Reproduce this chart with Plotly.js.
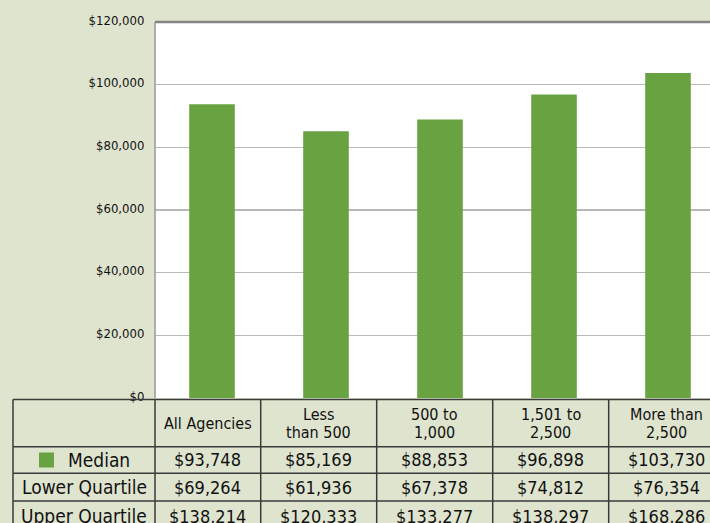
<!DOCTYPE html>
<html>
<head>
<meta charset="utf-8">
<script src="https://cdn.plot.ly/plotly-3.0.1.min.js"></script>
<style>
html,body{margin:0;padding:0;background:#dfe4cf;}
#chart{width:710px;height:523px;}
</style>
</head>
<body>
<div id="chart"></div>
<script>
// ---- data ----
const categories = ['All Agencies', 'Less than 500', '500 to 1,000', '1,501 to 2,500', 'More than 2,500'];
const headerLabels = ['All Agencies', 'Less<br>than 500', '500 to<br>1,000', '1,501 to<br>2,500', 'More than<br>2,500'];
const median = [93748, 85169, 88853, 96898, 103730];
const lowerQuartile = [69264, 61936, 67378, 74812, 76354];
const upperQuartile = [138214, 120333, 133277, 138297, 168286];
const rowLabels = ['Median', 'Lower Quartile', 'Upper Quartile'];

// ---- layout helpers (pixel -> paper) ----
const W = 710, H = 523;
const L = 155, T = 22, PW = W - L, PH = 398 - T;
const px = x => (x - L) / PW;
const py = y => (398 - y) / PH;

const FONT = 'Liberation Sans Narrow, DejaVu Sans Condensed, Arial Narrow, sans-serif';
const GREEN = '#69a341';
const LINE = '#3a3a3a';

const fmt = v => '$' + v.toLocaleString('en-US');

const colEdges = [155, 260.7, 376.7, 492.7, 608.7, 725];
const rowEdges = [399.5, 446.7, 473.3, 501, 531];
const tableLeft = 13;

const shapes = [];
const annotations = [];

// plot frame lines
shapes.push({type:'line', xref:'paper', yref:'paper', x0:0, x1:1.05, y0:1, y1:1, line:{color:'#858585', width:2.5}, layer:'above'});
shapes.push({type:'line', xref:'paper', yref:'paper', x0:0, x1:0, y0:0, y1:1, line:{color:'#999999', width:1.5}, layer:'above'});

// table horizontal lines
rowEdges.slice(0, 4).forEach(y => {
  shapes.push({type:'line', xref:'paper', yref:'paper', x0:px(tableLeft), x1:px(730), y0:py(y), y1:py(y), line:{color:LINE, width:1.5}});
});
// table vertical lines
[tableLeft].concat(colEdges.slice(0, 5)).forEach(x => {
  shapes.push({type:'line', xref:'paper', yref:'paper', x0:px(x), x1:px(x), y0:py(rowEdges[0]), y1:py(530), line:{color:LINE, width:1.5}});
});

// header cells (each line placed separately for tight leading)
headerLabels.forEach((lab, i) => {
  const cx = (colEdges[i] + colEdges[i + 1]) / 2;
  const lines = lab.split('<br>');
  const mid = (rowEdges[0] + rowEdges[1]) / 2;
  lines.forEach((t, k) => {
    const cy = lines.length === 1 ? mid : mid + (k - 0.5) * 18;
    annotations.push({xref:'paper', yref:'paper', x:px(cx), y:py(cy), text:t, showarrow:false,
      xanchor:'center', yanchor:'middle', align:'center', font:{family:FONT, size:16, color:'#111'}});
  });
});

// row labels and values
const rowData = [median, lowerQuartile, upperQuartile];
rowLabels.forEach((lab, r) => {
  const cy = (rowEdges[r + 1] + rowEdges[r + 2]) / 2;
  if (r === 0) {
    shapes.push({type:'rect', xref:'paper', yref:'paper', x0:px(39), x1:px(54), y0:py(cy - 7.5), y1:py(cy + 7.5), fillcolor:GREEN, line:{width:0}});
    annotations.push({xref:'paper', yref:'paper', x:px(66), y:py(cy), text:lab, showarrow:false,
      xanchor:'left', yanchor:'middle', font:{family:FONT, size:19, color:'#111'}});
  } else {
    annotations.push({xref:'paper', yref:'paper', x:px((tableLeft + colEdges[0]) / 2), y:py(cy), text:lab, showarrow:false,
      xanchor:'center', yanchor:'middle', font:{family:FONT, size:19, color:'#111'}});
  }
  rowData[r].forEach((v, i) => {
    const cx = (colEdges[i] + colEdges[i + 1]) / 2;
    annotations.push({xref:'paper', yref:'paper', x:px(cx), y:py(cy), text:fmt(v), showarrow:false,
      xanchor:'center', yanchor:'middle', font:{family:FONT, size:18, color:'#111'}});
  });
});

const trace = {
  type:'bar', x:categories, y:median, width:0.4,
  marker:{color:GREEN, line:{width:0}}, hoverinfo:'skip', showlegend:false
};

const layout = {
  width:W, height:H,
  margin:{l:L, r:0, t:T, b:H - 398, pad:0},
  paper_bgcolor:'#dfe4cf', plot_bgcolor:'#ffffff',
  showlegend:false,
  xaxis:{type:'category', range:[-0.5, -0.5 + PW / 114], showticklabels:false, showgrid:false, zeroline:false, showline:false, ticks:'', fixedrange:true},
  yaxis:{range:[0, 120000], dtick:20000, tickformat:'$,.0f', showgrid:true, gridcolor:'#b8b8b8', gridwidth:1.5,
    zeroline:false, showline:false, ticks:'outside', ticklen:7, tickcolor:'rgba(0,0,0,0)', ticklabelshift:-2,
    tickfont:{family:FONT, size:13, color:'#111'}, fixedrange:true},
  shapes:shapes, annotations:annotations
};

Plotly.newPlot('chart', [trace], layout, {displayModeBar:false, staticPlot:true});
</script>
</body>
</html>
